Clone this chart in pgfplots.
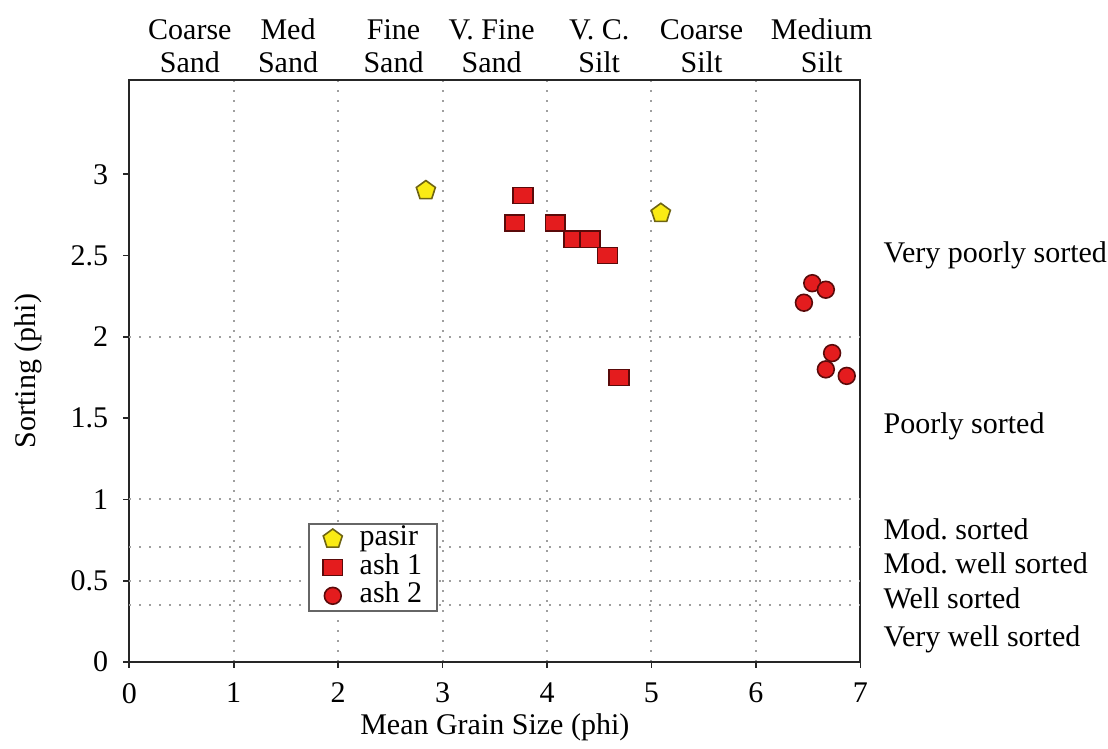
\documentclass[border=0pt]{standalone}
\usepackage{fontspec}
\setmainfont{Liberation Serif}
\usepackage{pgfplots}
\pgfplotsset{compat=1.18}

\definecolor{pentfill}{RGB}{250,235,20}
\definecolor{pentedge}{RGB}{110,100,20}
\definecolor{redfill}{RGB}{228,28,30}
\definecolor{rededge}{RGB}{90,10,10}
\newcommand{\lblfont}{\fontsize{15}{16.5}\selectfont}

\begin{document}
\begin{tikzpicture}
\useasboundingbox (-64.65pt,-43.5pt) rectangle (489.35pt,331pt);
\begin{axis}[
  at={(0,0)}, anchor=south west,
  scale only axis, width=365.5pt, height=291pt,
  xmin=0, xmax=7, ymin=0, ymax=3.58,
  xtick={0,1,...,7}, ytick={0,0.5,1,1.5,2,2.5,3},
  tick align=outside, xtick pos=bottom, ytick pos=left,
  major tick length=3pt,
  axis line style={line width=1pt, black!85},
  every tick/.style={black!85, line width=0.8pt},
  xmajorgrids,
  grid style={gray!75, line width=1pt, dash pattern=on 1pt off 4pt},
  extra y ticks={0.35,0.5,0.71,1,2},
  extra y tick labels={},
  extra y tick style={grid=major, major tick length=0pt},
  ticklabel style={font=\lblfont},
  /pgf/number format/assume math mode=true,
  xticklabel style={yshift=-4pt},
  yticklabel style={xshift=-4pt},
  xlabel={Mean Grain Size (phi)},
  ylabel={Sorting (phi)},
  xlabel style={font=\lblfont, at={(axis description cs:0.5,-0.1117)}, anchor=center},
  ylabel style={font=\lblfont, at={(axis description cs:-0.1382,0.5)}, anchor=center},
  clip=false,
  legend style={at={(axis cs:1.712,0.855)}, anchor=north west,
    draw=black!60, line width=0.8pt, fill=white, inner xsep=7pt, inner ysep=0.5pt,
    font=\lblfont, legend cell align=left,
    nodes={inner sep=0.5pt, text height=10pt, text depth=3.2pt},
    /tikz/column sep=8pt},
]
\addplot[only marks, mark=pentagon*, mark size=5pt,
  mark options={fill=pentfill, draw=pentedge, line width=0.8pt}]
  coordinates {(2.84,2.90) (5.09,2.76)};
\addlegendentry{pasir}
\addplot[only marks, mark=square*, mark size=4.5pt,
  mark options={fill=redfill, draw=rededge, line width=0.8pt, xscale=1.1, yscale=0.9}]
  coordinates {(3.69,2.70) (3.77,2.87) (4.08,2.70) (4.26,2.60) (4.41,2.60) (4.58,2.50) (4.69,1.75)};
\addlegendentry{ash 1}
\addplot[only marks, mark=*, mark size=4.2pt,
  mark options={fill=redfill, draw=rededge, line width=0.8pt}]
  coordinates {(6.54,2.33) (6.67,2.29) (6.46,2.21) (6.73,1.90) (6.67,1.80) (6.87,1.76)};
\addlegendentry{ash 2}

% top category labels
\node[anchor=south, align=center, inner sep=0pt, font=\lblfont, yshift=3.5pt] at (axis cs:0.58,3.58) {Coarse\\Sand};
\node[anchor=south, align=center, inner sep=0pt, font=\lblfont, yshift=3.5pt] at (axis cs:1.52,3.58) {Med\\Sand};
\node[anchor=south, align=center, inner sep=0pt, font=\lblfont, yshift=3.5pt] at (axis cs:2.53,3.58) {Fine\\Sand};
\node[anchor=south, align=center, inner sep=0pt, font=\lblfont, yshift=3.5pt] at (axis cs:3.47,3.58) {V.\ Fine\\Sand};
\node[anchor=south, align=center, inner sep=0pt, font=\lblfont, yshift=3.5pt] at (axis cs:4.50,3.58) {V.\ C.\\Silt};
\node[anchor=south, align=center, inner sep=0pt, font=\lblfont, yshift=3.5pt] at (axis cs:5.48,3.58) {Coarse\\Silt};
\node[anchor=south, align=center, inner sep=0pt, font=\lblfont, yshift=3.5pt] at (axis cs:6.63,3.58) {Medium\\Silt};

% right sorting labels
\node[anchor=base west, inner sep=0pt, font=\lblfont, xshift=11.5pt] at (axis cs:7,2.456) {Very poorly sorted};
\node[anchor=base west, inner sep=0pt, font=\lblfont, xshift=11.5pt] at (axis cs:7,1.406) {Poorly sorted};
\node[anchor=base west, inner sep=0pt, font=\lblfont, xshift=11.5pt] at (axis cs:7,0.755) {Mod.\ sorted};
\node[anchor=base west, inner sep=0pt, font=\lblfont, xshift=11.5pt] at (axis cs:7,0.545) {Mod.\ well sorted};
\node[anchor=base west, inner sep=0pt, font=\lblfont, xshift=11.5pt] at (axis cs:7,0.330) {Well sorted};
\node[anchor=base west, inner sep=0pt, font=\lblfont, xshift=11.5pt] at (axis cs:7,0.094) {Very well sorted};
\end{axis}
\end{tikzpicture}
\end{document}
